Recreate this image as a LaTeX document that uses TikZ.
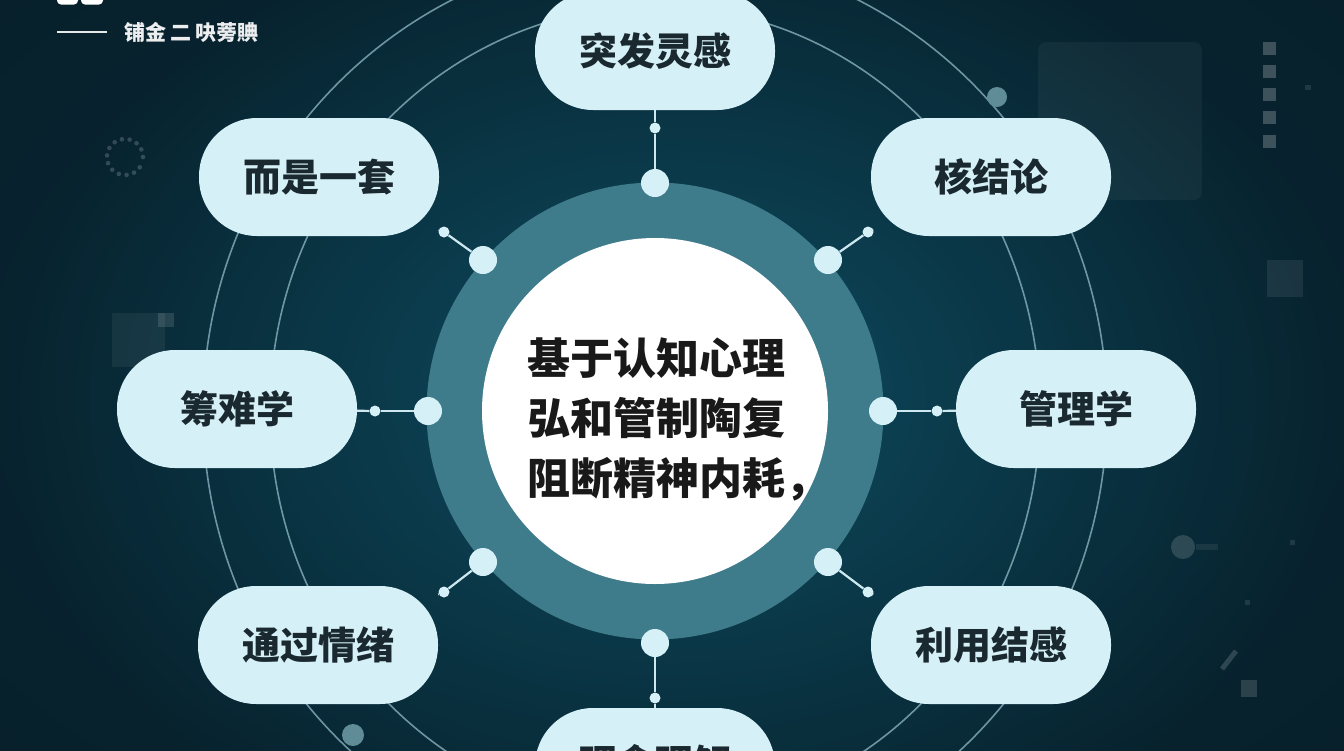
\documentclass[tikz,border=0pt]{standalone}
\usepackage{fontspec}
\newfontfamily\cjk{Noto Sans CJK SC}
\definecolor{bgc}{HTML}{0F5166}
\definecolor{bgo}{HTML}{07202B}
\definecolor{ringc}{HTML}{3E7B8B}
\definecolor{pillc}{HTML}{D5F1F7}
\definecolor{txtc}{HTML}{1A2830}
\definecolor{connc}{HTML}{CDE9EF}
\definecolor{orbitc}{HTML}{7FA9B4}
\definecolor{greydot}{HTML}{5F8C97}
\tikzset{
  pill/.style={rectangle, rounded corners=58pt, minimum width=240pt, minimum height=118pt,
    fill=pillc, text=txtc, font=\cjk\bfseries\fontsize{38}{46}\selectfont, inner sep=0pt},
  bigdot/.style={circle, fill=pillc, minimum size=28pt, inner sep=0pt},
  smalldot/.style={circle, fill=pillc, minimum size=11pt, inner sep=0pt},
  conn/.style={draw=connc, line width=2.2pt},
  orbit/.style={draw=orbitc, line width=1.6pt, opacity=0.85}
}
\begin{document}
\begin{tikzpicture}[x=1pt,y=-1pt]
\useasboundingbox (0,0) rectangle (1344,750);
% background
\shade[inner color=bgc, outer color=bgo] (-300,-250) rectangle (1644,1000);
\fill[bgo, opacity=0.25] (0,0) rectangle (1344,750);
\shade[inner color=bgc, outer color=bgo, opacity=0.7] (0,-100) rectangle (1344,900);
% decorations
\foreach \a in {0,25,...,335} \fill[white, opacity=0.18, shift={(125,157)}] (\a:18pt) circle (2.3pt);
\fill[white, opacity=0.045, rounded corners=8pt] (1038,42) rectangle (1202,200);
\foreach \yy in {42,65,88,111,135} \fill[white, opacity=0.22] (1263,\yy) rectangle (1276,\yy+13);
\fill[white, opacity=0.08] (1267,260) rectangle (1303,297);
\fill[white, opacity=0.06] (112,313) rectangle (165,367);
\fill[white, opacity=0.12] (158,313) rectangle (174,327);
\fill[white, opacity=0.15] (1183,547) circle (12pt);
\fill[white, opacity=0.07] (1196,544) rectangle (1218,550);
\draw[white, opacity=0.16, line width=5pt] (1222,669) -- (1236,651);
\fill[white, opacity=0.15] (1241,680) rectangle (1257,697);
\fill[white, opacity=0.10] (1245,600) rectangle (1250,605);
\fill[white, opacity=0.10] (1290,540) rectangle (1295,545);
\fill[white, opacity=0.10] (1305,85) rectangle (1311,90);
% orbits
\draw[orbit] (655,411) ellipse [x radius=385pt, y radius=405pt];
\draw[orbit] (655,411) ellipse [x radius=452pt, y radius=460pt];
\fill[greydot] (997,97) circle (10pt);
\fill[greydot] (353,735) circle (11pt);
% logo and header
\fill[white, rounded corners=4pt] (57,-20) rectangle (78,4.5);
\fill[white, rounded corners=4pt] (81,-20) rectangle (103,4.5);
\draw[white, opacity=0.9, line width=2pt] (57,32) -- (107,32);
\node[anchor=west, text=white, opacity=0.92, font=\cjk\bfseries\fontsize{21}{24}\selectfont, inner sep=0pt] (hdr) at (124,32) {铺金\hspace{4pt}二\hspace{4pt}吷蒡賟};
% central circle
\node[circle, fill=ringc, minimum size=457pt, inner sep=0pt] (ring) at (655,411) {};
\node[circle, fill=white, minimum size=346pt, inner sep=0pt] (core) at (655,411) {};
\node[anchor=west, align=left, text=black!90, font=\cjk\bfseries\fontsize{43}{60}\selectfont, inner sep=0pt] (ctext) at (527,419) {基于认知心理\\弘和管制陶复\\阻断精神内耗，};
% pills
\node[pill] (p1) at (655,51) {突发灵感};
\node[pill] (p2) at (991,177) {核结论};
\node[pill] (p3) at (1076,409) {管理学};
\node[pill] (p4) at (991,645) {利用结感};
\node[pill] (p5) at (655,767) {};
\node[text=txtc, font=\cjk\bfseries\fontsize{38}{46}\selectfont, inner sep=0pt] (p5t) at (655,763) {理念理解};
\node[pill] (p6) at (318,645) {通过情绪};
\node[pill] (p7) at (237,409) {筹难学};
\node[pill] (p8) at (319,177) {而是一套};
% big dots
\node[bigdot] (b1) at (655,183) {};
\node[bigdot] (b2) at (828,260) {};
\node[bigdot] (b3) at (883,411) {};
\node[bigdot] (b4) at (828,562) {};
\node[bigdot] (b5) at (655,643) {};
\node[bigdot] (b6) at (483,562) {};
\node[bigdot] (b7) at (428,411) {};
\node[bigdot] (b8) at (483,260) {};
% small dots
\node[smalldot] (s1) at (655,128) {};
\node[smalldot] (s2) at (868,232) {};
\node[smalldot] (s3) at (937,411) {};
\node[smalldot] (s4) at (868,592) {};
\node[smalldot] (s5) at (655,698) {};
\node[smalldot] (s6) at (444,592) {};
\node[smalldot] (s7) at (375,411) {};
\node[smalldot] (s8) at (444,232) {};
% connectors
\foreach \i in {1,...,8} {
  \draw[conn] (b\i) -- (s\i);
  \draw[conn] (s\i) -- (p\i);
}
\end{tikzpicture}
\end{document}
